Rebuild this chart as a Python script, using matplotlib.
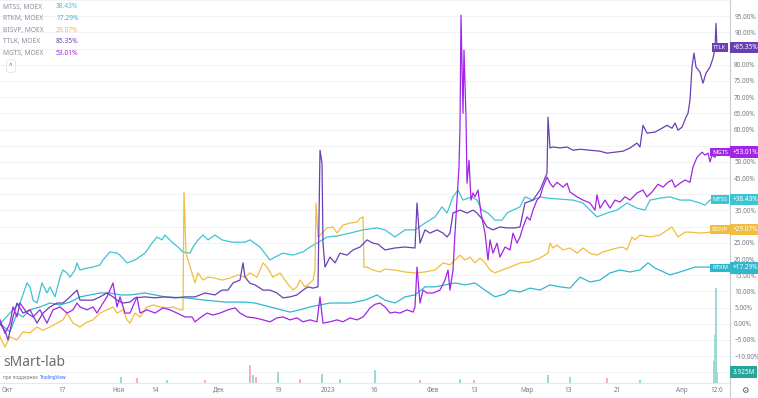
import matplotlib.pyplot as plt
from matplotlib.transforms import blended_transform_factory
from matplotlib.lines import Line2D

plt.rcParams['font.family'] = ['Noto Sans', 'DejaVu Sans']

# ---- данные (бар-индекс, % изменения) ----
mtss_x = [0, 15, 20, 27, 30, 33, 37, 42, 47, 50, 55, 60, 63, 67, 70, 75, 77, 80, 87, 93, 100, 103, 110, 117, 120, 127,
          130, 135, 145, 152, 157, 162, 165, 172, 178, 183, 190, 193, 198, 203, 208, 215, 222, 232, 245, 250, 260, 270,
          275, 283, 293, 303, 310, 317, 327, 337, 350, 363, 377, 385, 395, 405, 415, 425, 435, 442, 447, 453, 458, 463,
          472, 477, 482, 488, 495, 502, 507, 513, 520, 525, 533, 540, 547, 560, 573, 583, 590, 597, 607, 617, 627, 637,
          645, 650, 660, 670, 680, 690, 700, 705, 710, 716]
mtss_y = [0, 5.0, 6.4, 12.6, 11.4, 7.3, 6.4, 12.6, 9.5, 11.4, 8.3, 14.4, 16.6, 15.7, 14.4, 16.6, 18.8, 16.6, 17.2, 17.5,
          18.2, 19.7, 22.2, 21.8, 21.2, 18.8, 19.1, 19.7, 21.8, 24.9, 26.8, 25.9, 27.4, 25.2, 23.7, 22.1, 21.8, 23.7,
          25.9, 27.4, 25.9, 27.4, 25.9, 25.2, 25.2, 25.9, 23.7, 19.7, 20.6, 21.8, 21.2, 22.2, 23.7, 24.9, 26.8, 27.1,
          28.0, 29.0, 29.6, 29.0, 26.8, 29.0, 29.0, 31.1, 33.0, 36.1, 34.2, 39.2, 41.3, 38.2, 39.2, 38.2, 35.1, 34.2,
          32.0, 32.0, 34.2, 35.1, 36.1, 39.2, 38.2, 39.2, 38.8, 38.5, 38.2, 37.3, 35.1, 33.0, 34.2, 35.1, 37.3, 35.7,
          35.1, 38.2, 38.8, 39.2, 38.2, 38.2, 37.3, 36.6, 38.2, 38.43]

rtkm_x = [0, 10, 17, 23, 30, 40, 50, 60, 70, 80, 90, 100, 110, 120, 130, 145, 165, 185, 205, 225, 245, 255, 270, 290,
          300, 310, 330, 350, 365, 377, 385, 395, 405, 415, 425, 435, 445, 455, 465, 475, 485, 495, 505, 510, 520, 530,
          540, 550, 560, 570, 580, 590, 600, 610, 620, 630, 640, 648, 655, 670, 680, 695, 710, 716]
rtkm_y = [0, -2.5, 3.3, 2.1, 4.3, 5.2, 6.4, 5.8, 6.7, 8.3, 8.9, 9.5, 9.5, 8.9, 8.9, 9.5, 8.3, 8.0, 7.3, 6.7, 6.7, 6.4,
          5.2, 3.6, 4.3, 5.2, 6.4, 6.4, 7.3, 8.9, 7.3, 6.4, 8.3, 8.9, 11.4, 11.4, 12.0, 12.6, 12.0, 12.6, 10.4, 8.3,
          9.2, 10.4, 9.8, 11.0, 10.4, 12.0, 11.4, 11.0, 14.4, 12.9, 13.5, 15.7, 16.6, 16.0, 16.6, 18.8, 17.2, 15.1,
          16.0, 17.5, 17.5, 17.29]

bisvp_x = [0, 5, 10, 17, 23, 30, 37, 43, 50, 57, 63, 67, 73, 80, 87, 93, 100, 107, 113, 117, 123, 127, 130, 135, 140,
           147, 153, 160, 167, 173, 180, 183, 184, 186, 188, 192, 195, 198, 203, 208, 215, 222, 230, 238, 245, 250,
           257, 263, 267, 273, 280, 287, 293, 297, 300, 305, 310, 313, 315, 316, 318, 322, 327, 333, 337, 343, 350,
           357, 360, 363, 364, 367, 373, 380, 385, 395, 405, 415, 425, 435, 443, 450, 460, 465, 470, 475, 480, 485,
           490, 495, 502, 510, 520, 530, 540, 548, 550, 553, 557, 563, 570, 577, 583, 590, 597, 603, 610, 617, 623,
           627, 632, 635, 640, 650, 660, 672, 678, 685, 690, 700, 710, 716]
bisvp_y = [-4.0, -7.2, -4.0, -5.0, -2.5, -2.8, -1.0, -2.0, -1.0, 0.2, 1.2, 3.3, 0.2, -1.0, 0.5, 1.2, 3.3, 4.3, 5.2,
           3.3, 4.3, 1.2, 0.2, 3.3, 2.1, 5.2, 5.8, 5.2, 4.9, 5.2, 4.3, 4.3, 40.7, 21.8, 19.7, 15.7, 12.6, 15.7, 13.5,
           14.4, 14.1, 13.5, 14.1, 15.1, 14.4, 15.7, 14.4, 18.8, 17.5, 14.4, 15.7, 12.6, 10.4, 11.4, 13.5, 11.4, 12.6,
           13.5, 16.6, 37.3, 26.8, 28.0, 29.6, 29.9, 28.0, 30.5, 31.1, 31.4, 32.6, 33.0, 17.5, 17.5, 16.6, 16.0, 16.9,
           16.6, 16.0, 15.7, 16.0, 16.6, 18.8, 18.2, 21.2, 19.7, 20.6, 18.8, 20.3, 18.8, 16.6, 15.7, 16.6, 17.5, 18.8,
           19.1, 20.3, 21.8, 24.9, 23.4, 24.3, 22.8, 23.4, 21.8, 23.4, 21.8, 21.2, 22.2, 22.8, 23.4, 23.7, 22.8, 26.8,
           25.9, 27.4, 26.8, 27.4, 29.9, 26.8, 28.3, 28.3, 28.0, 28.3, 29.07]

ttlk_x = [0, 5, 8, 13, 17, 23, 30, 37, 43, 50, 57, 63, 70, 77, 80, 87, 93, 100, 107, 113, 117, 123, 130, 135, 145, 155,
          165, 175, 185, 195, 205, 215, 222, 228, 233, 240, 243, 245, 250, 255, 263, 270, 277, 283, 290, 297, 303, 308,
          313, 318, 320, 322, 323, 325, 330, 335, 340, 347, 353, 360, 367, 373, 378, 385, 395, 405, 415, 417, 420, 425,
          430, 437, 443, 447, 450, 453, 460, 467, 473, 477, 483, 487, 493, 500, 507, 515, 520, 525, 533, 540, 545, 547,
          548, 550, 553, 560, 567, 573, 580, 590, 600, 607, 615, 623, 630, 637, 640, 643, 647, 655, 662, 667, 672, 675,
          678, 682, 686, 688, 690, 692, 694, 696, 700, 703, 706, 710, 713, 715, 716, 717]
ttlk_y = [0, -2.2, -5.0, 2.1, 6.4, 3.3, 4.3, 0.2, 3.3, 5.2, 6.4, 6.4, 8.3, 10.4, 7.3, 7.3, 7.3, 8.3, 9.5, 8.3, 7.3,
          6.4, 6.7, 8.0, 8.3, 8.0, 8.3, 8.0, 8.3, 8.3, 9.5, 8.9, 10.4, 10.4, 12.6, 13.5, 18.8, 14.4, 12.5, 12.0, 10.4,
          10.4, 9.5, 8.0, 8.3, 8.9, 10.4, 11.4, 11.0, 11.4, 53.6, 49.6, 24.9, 17.5, 20.6, 18.8, 21.8, 21.2, 22.8, 23.7,
          25.9, 24.9, 24.6, 22.8, 23.4, 23.7, 23.4, 37.3, 24.9, 29.0, 28.0, 29.0, 28.0, 26.8, 28.0, 34.2, 35.1, 34.2,
          35.1, 34.2, 32.0, 29.9, 29.0, 29.9, 29.6, 29.6, 29.9, 37.3, 38.2, 41.3, 45.0, 46.5, 63.8, 54.3, 54.6, 54.3,
          54.6, 53.6, 53.9, 53.6, 53.3, 52.7, 53.0, 53.3, 54.3, 55.8, 54.6, 61.3, 58.9, 59.2, 60.4, 61.3, 60.4, 62.0,
          59.8, 60.7, 63.8, 65.0, 69.1, 79.3, 83.6, 79.3, 77.7, 74.3, 77.4, 79.3, 82.0, 85.0, 92.8, 85.35]

mgts_x = [0, 5, 10, 13, 17, 20, 27, 33, 40, 47, 53, 60, 67, 73, 77, 80, 87, 93, 97, 103, 107, 113, 117, 120, 125, 130,
          137, 140, 147, 155, 163, 170, 177, 185, 192, 195, 200, 207, 213, 220, 228, 235, 240, 247, 255, 263, 270, 277,
          283, 290, 297, 303, 310, 317, 320, 323, 330, 337, 343, 350, 357, 363, 367, 370, 375, 380, 385, 390, 395, 400,
          407, 413, 415, 417, 420, 423, 427, 433, 440, 445, 448, 450, 453, 455, 457, 459, 460, 461, 463, 464, 466, 467,
          469, 471, 473, 475, 478, 481, 485, 488, 490, 493, 497, 500, 505, 510, 513, 517, 520, 523, 527, 530, 533, 537,
          540, 543, 547, 550, 553, 557, 563, 567, 570, 577, 583, 590, 595, 597, 600, 605, 610, 615, 620, 625, 630, 637,
          643, 647, 652, 658, 663, 668, 672, 675, 680, 685, 690, 693, 697, 702, 705, 708, 710, 712, 715, 717]
mgts_y = [1.2, -3.0, 0.2, 5.2, 2.1, 6.4, 3.3, 2.1, 4.3, 0.2, 4.3, 5.2, 3.3, 4.3, 6.4, 5.2, 4.3, 5.2, 3.3, 6.4, 8.3,
          12.6, 5.2, 8.3, 3.3, 3.3, 8.3, 3.3, 4.3, 3.3, 4.9, 4.3, 3.3, 2.1, 2.1, 0.6, 1.8, 3.3, 2.7, 3.3, 4.3, 4.9, 3.3,
          2.1, 1.8, 1.2, 0.6, 1.8, 2.1, 1.2, 1.8, 0.6, 1.2, 0.6, 8.3, 0.2, 0.6, 1.2, 0.6, 1.8, 1.2, 2.1, 3.6, 4.9, 6.0,
          6.4, 5.2, 3.3, 3.6, 3.3, 4.3, 3.6, 5.2, 17.5, 6.4, 10.4, 9.5, 9.5, 10.4, 13.5, 16.6, 10.4, 16.6, 28.0, 38.2,
          48.4, 60.8, 95.3, 65.0, 84.5, 63.8, 43.4, 50.5, 38.2, 40.4, 39.2, 41.3, 34.2, 28.0, 19.7, 25.9, 21.8, 24.9,
          20.6, 23.7, 22.8, 28.0, 24.9, 26.8, 29.9, 33.0, 32.0, 35.1, 38.2, 39.2, 42.2, 45.3, 43.4, 42.2, 43.7, 42.2,
          43.4, 40.7, 39.2, 38.2, 37.3, 35.1, 39.8, 35.7, 38.2, 35.7, 38.2, 37.6, 39.2, 38.2, 40.4, 41.3, 39.2, 40.7,
          43.1, 42.2, 43.7, 44.4, 42.2, 43.4, 44.4, 43.7, 48.4, 51.4, 53.0, 52.1, 52.7, 50.0, 52.1, 51.4, 53.01]

# объём, млн
vol_x = [121, 137, 167, 205, 250, 253, 256, 278, 300, 322, 340, 375, 420, 460, 474, 548, 570, 607, 640,
         714, 715, 716, 717]
vol_m = [2.0, 1.8, 1.0, 1.2, 6.4, 3.0, 2.0, 3.9, 1.5, 3.2, 1.5, 4.6, 1.0, 1.5, 1.2, 2.9, 2.1, 1.8, 1.0,
         8.0, 17.0, 34.0, 3.925]
vol_up = [True, False, True, False, False, True, False, True, False, True, True, True, False, True, False,
          True, True, False, True, True, True, True, True]

tick_pos = [7, 62, 118, 155, 219, 278, 328, 374, 433, 474, 527, 568, 617, 682, 717]
tick_lab = ['Окт', '17', 'Ноя', '14', 'Дек', '19', '2023', '16', 'Фев', '13', 'Мар', '13', '21', 'Апр', '12:0']

names = ['MTSS', 'RTKM', 'BISVP', 'TTLK', 'MGTS']
last = [38.43, 17.29, 29.07, 85.35, 53.01]
colors = ['#3ec3d3', '#2fb8cc', '#f2bd3c', '#6a3fb3', '#a224e6']
series = [(mtss_x, mtss_y), (rtkm_x, rtkm_y), (bisvp_x, bisvp_y), (ttlk_x, ttlk_y), (mgts_x, mgts_y)]

W, H = 758, 398
fig = plt.figure(figsize=(W / 100, H / 100), dpi=100)
ax = fig.add_axes([0, 15 / H, 730 / W, 383 / H])
ax.set_xlim(0, 730)
ax.set_ylim(-18.3, 99.9)

# сетка на каждые 5%, подписи там, где их не закрывают плашки
grid_v = list(range(-15, 101, 5))
ax.set_yticks(grid_v)
lab = []
for v in grid_v:
    hidden = v > 97 or v < -12 or any(abs(v - p) < 2.05 for p in last)
    lab.append('' if hidden else f'{v:.2f}%'.replace('-', '−'))
ax.set_yticklabels(lab)
ax.yaxis.tick_right()
ax.set_xticks(tick_pos)
ax.set_xticklabels(tick_lab)
ax.tick_params(axis='both', length=0, labelsize=4.6, labelcolor='#787b86')
ax.tick_params(axis='y', pad=3)
ax.tick_params(axis='x', pad=3)
ax.grid(axis='y', color='#f0f2f6', lw=0.7)
for s in ['top', 'left']:
    ax.spines[s].set_visible(False)
ax.spines['right'].set_color('#c9ccd3')
ax.spines['bottom'].set_color('#e6e8ee')
ax.spines['right'].set_linewidth(0.8)

# линии (MGTS поверх)
for i in [1, 0, 2, 3, 4]:
    xs, ys = series[i]
    ax.plot(xs, ys, color=colors[i], lw=0.9, zorder=3 + i)

# объём
vax = fig.add_axes(ax.get_position())
vax.set_xlim(0, 730)
vax.set_ylim(0, 137)
vax.axis('off')
vcol = ['#9fd9d3' if u else '#f3b4b2' for u in vol_up]
vax.bar(vol_x, vol_m, width=1.2, color=vcol)
vtr = blended_transform_factory(vax.transAxes, vax.transData)
vax.text(1.003, vol_m[-1], '3.925M', transform=vtr, ha='left', va='center', fontsize=4.6, color='white',
         bbox=dict(boxstyle='square,pad=0.35', fc='#26a69a', ec='none'), clip_on=False)

# метки последних значений
tr = blended_transform_factory(ax.transAxes, ax.transData)
for i in range(5):
    ax.text(720, last[i], names[i], ha='center', va='center', fontsize=4.2, color='white', zorder=20,
            bbox=dict(boxstyle='square,pad=0.3', fc=colors[i], ec='none'))
    ax.text(1.003, last[i], f'+{last[i]:.2f}%', transform=tr, ha='left', va='center', fontsize=4.6,
            color='white', zorder=20, clip_on=False,
            bbox=dict(boxstyle='square,pad=0.35', fc=colors[i], ec='none'))

# легенда
for i in range(5):
    yy = 1 - (7 + i * 11.6) / H
    fig.text(3 / W, yy, f'{names[i]}, MOEX', fontsize=4.8, color='#8a8e99', va='center')
    fig.text(56 / W, yy, f'{last[i]:.2f}%', fontsize=4.8, color=colors[i], va='center')
fig.text(11 / W, 1 - 66 / H, '^', fontsize=4.5, color='#555555', ha='center', va='center',
         bbox=dict(boxstyle='round,pad=0.45', fc='white', ec='#e0e3eb', lw=0.6))

# водяной знак
fig.text(3 / W, 1 - 363 / H, 'sMart-lab', fontsize=10, color='#6b6b6b', va='center')
fig.text(3 / W, 1 - 378 / H, 'при поддержке', fontsize=3.3, color='#7a7a7a', va='center')
fig.text(40 / W, 1 - 378 / H, 'TradingView', fontsize=3.3, color='#2962ff', va='center')

fig.add_artist(Line2D([730 / W, 730 / W], [0, 15 / H], color='#c9ccd3', lw=0.8))
fig.text(745 / W, 1 - 390 / H, '⚙', fontsize=6, color='#555555', ha='center', va='center', family='DejaVu Sans')

fig.savefig('out.png', dpi=100)
